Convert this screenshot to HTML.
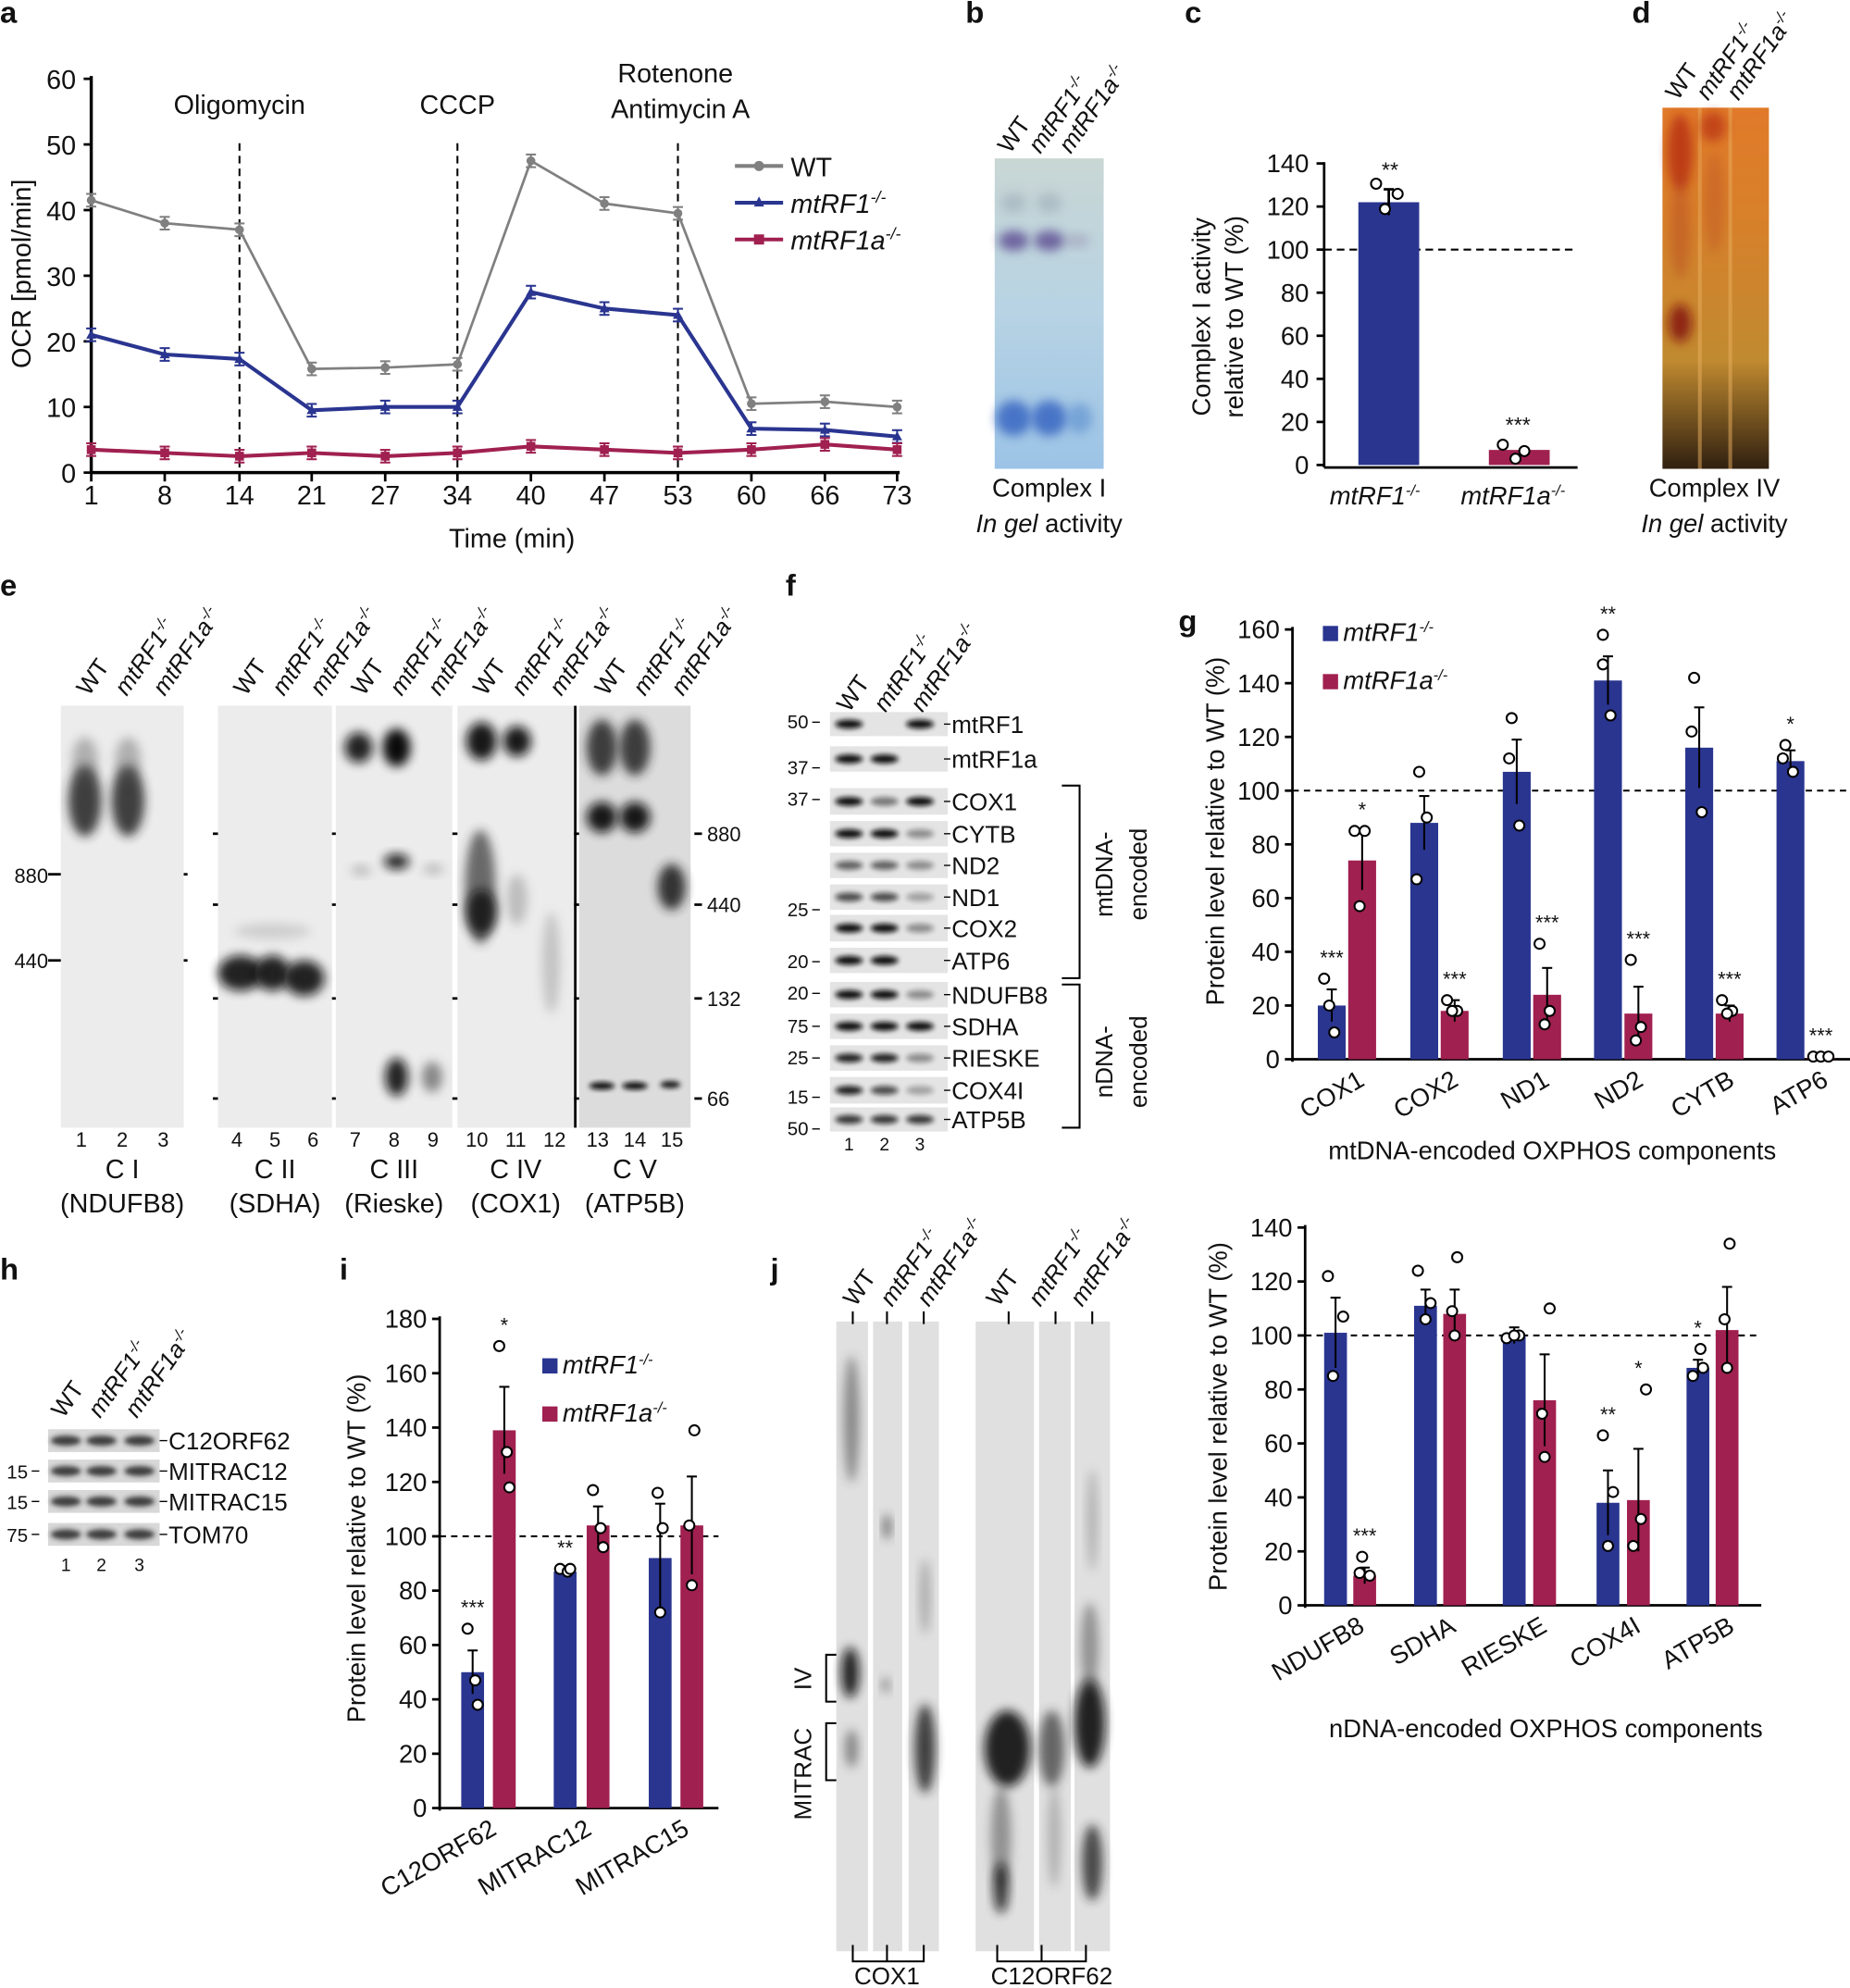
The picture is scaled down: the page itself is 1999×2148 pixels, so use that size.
<!DOCTYPE html>
<html><head><meta charset="utf-8"><style>
html,body{margin:0;padding:0;background:#fff}
svg{display:block}
text{font-family:"Liberation Sans",Arial,sans-serif;fill:#111}
</style></head><body>
<svg id="s" width="1999" height="2148" viewBox="0 0 1460 1569" preserveAspectRatio="none" xmlns="http://www.w3.org/2000/svg">
<defs>
<filter id="bl" x="-50%" y="-50%" width="200%" height="200%"><feGaussianBlur stdDeviation="4"/></filter>
<filter id="bl2" x="-50%" y="-50%" width="200%" height="200%"><feGaussianBlur stdDeviation="2"/></filter>
<linearGradient id="gb" x1="0" y1="0" x2="0" y2="1"><stop offset="0" stop-color="#c9d6d4"/><stop offset="0.5" stop-color="#b7d3e4"/><stop offset="1" stop-color="#9cc3e6"/></linearGradient>
<linearGradient id="gd" x1="0" y1="0" x2="0" y2="1"><stop offset="0" stop-color="#e07a2a"/><stop offset="0.3" stop-color="#d8802a"/><stop offset="0.7" stop-color="#c08a30"/><stop offset="1" stop-color="#302010"/></linearGradient>
</defs>
<g id="g"></g>
</svg>
<script>
var o='';
function T(x,y,t,s,a,e){o+='<text x="'+x+'" y="'+y+'" font-size="'+(s||20)+'"'+(a?' text-anchor="'+a+'"':'')+(e||'')+'>'+t+'</text>';}
function L(x1,y1,x2,y2,c,w,d){o+='<line x1="'+x1+'" y1="'+y1+'" x2="'+x2+'" y2="'+y2+'" stroke="'+(c||'#000')+'" stroke-width="'+(w||2)+'"'+(d?' stroke-dasharray="'+d+'"':'')+'/>';}
function R(x,y,w,h,f,e){o+='<rect x="'+x+'" y="'+y+'" width="'+w+'" height="'+h+'" fill="'+f+'"'+(e||'')+'/>';}
function E(cx,cy,rx,ry,f,op,fl){o+='<ellipse cx="'+cx+'" cy="'+cy+'" rx="'+rx+'" ry="'+ry+'" fill="'+f+'" opacity="'+(op||1)+'" filter="url(#'+(fl||'bl')+')"/>';}
function C(cx,cy,r){o+='<circle cx="'+cx+'" cy="'+cy+'" r="'+(r||4)+'" fill="#fff" stroke="#000" stroke-width="1.5"/>';}
var B='font-weight="bold"';
[['a',0,18],['b',762,18],['c',935,18],['d',1288,18],['e',0,470],['f',620,470],['g',930,498],['h',0,1010],['i',268,1010],['j',608,1010]].forEach(function(p){T(p[1],p[2],p[0],24,'',' '+B);});
// ===== Panel a
var xs=[72,130,189,246,304,361,419,477,535,593,651,708];
var y0=373,k=5.18;
L(72,60,72,373,'#000',2.5);L(72,373,710,373,'#000',2.5);
for(var i=0;i<=6;i++){var y=y0-i*10*k;L(66,y,72,y);T(60,y+8,i*10,21,'end');}
var lab=[1,8,14,21,27,34,40,47,53,60,66,73];
xs.forEach(function(x,i){L(x,373,x,380);T(x,398,lab[i],21,'middle');});
T(404,432,'Time (min)',21,'middle');
o+='<text transform="translate(24,216) rotate(-90)" font-size="21" text-anchor="middle">OCR [pmol/min]</text>';
[189,361,535].forEach(function(x){L(x,113,x,373,'#000',1.5,'6,4');});
T(189,90,'Oligomycin',21,'middle');T(361,90,'CCCP',21,'middle');T(533,65,'Rotenone',21,'middle');T(537,93,'Antimycin A',21,'middle');
var S=[[[41.5,38,37,15.8,16,16.5,47.5,41,39.5,10.5,10.8,10],'#808080',2,'c'],[[21,18,17.3,9.5,10,10,27.5,25,24,6.7,6.5,5.5],'#2a3590',3,'t'],[[3.5,3,2.5,3,2.5,3,4,3.5,3,3.5,4.3,3.5],'#a02050',3,'s']];
S.forEach(function(s){var p=s[0].map(function(v,i){return xs[i]+','+(y0-v*k);}).join(' ');
o+='<polyline points="'+p+'" fill="none" stroke="'+s[1]+'" stroke-width="'+s[2]+'"/>';
s[0].forEach(function(v,i){var x=xs[i],y=y0-v*k;L(x,y-5,x,y+5,s[1],1.5);L(x-4,y-5,x+4,y-5,s[1],1.5);L(x-4,y+5,x+4,y+5,s[1],1.5);
if(s[3]=='c')o+='<circle cx="'+x+'" cy="'+y+'" r="3.5" fill="'+s[1]+'"/>';else if(s[3]=='t')o+='<polygon points="'+(x-4)+','+(y+3)+' '+(x+4)+','+(y+3)+' '+x+','+(y-4)+'" fill="'+s[1]+'"/>';else R(x-3.5,y-3.5,7,7,s[1]);});});
[['WT','#808080',137,'c'],['mtRF1<tspan font-size="13" dy="-8">-/-</tspan>','#2a3590',166,'t'],['mtRF1a<tspan font-size="13" dy="-8">-/-</tspan>','#a02050',195,'s']].forEach(function(l,i){L(580,l[2]-6,618,l[2]-6,l[1],3);
if(l[3]=='c')o+='<circle cx="599" cy="'+(l[2]-6)+'" r="4" fill="'+l[1]+'"/>';else if(l[3]=='t')o+='<polygon points="595,'+(l[2]-3)+' 603,'+(l[2]-3)+' 599,'+(l[2]-11)+'" fill="'+l[1]+'"/>';else R(595,l[2]-10,8,8,l[1]);
T(624,l[2]+2,l[0],21,'',i?' font-style="italic"':'');});
// ===== Panel b
function gl(x,y,ls,sz){ls.forEach(function(t,i){o+='<text transform="translate('+(x+i*(sz||22))+','+y+') rotate(-55)" font-size="19"'+(i?' font-style="italic"':'')+'>'+t+'</text>';});}
var mt1='mtRF1<tspan font-size="12" dy="-7">-/-</tspan>',mt1a='mtRF1a<tspan font-size="12" dy="-7">-/-</tspan>';
gl(797,122,['WT',mt1,mt1a],24);
R(785,125,86,245,'url(#gb)');
E(800,190,12,8,'#5a4a90',0.8);E(828,190,12,8,'#5a4a90',0.8);E(850,190,10,5,'#8a7aa0',0.4);
E(800,330,14,14,'#3060c0',0.8);E(828,330,14,14,'#3060c0',0.8);E(852,330,10,12,'#4a80c8',0.5);
E(800,160,10,8,'#8a9aa8',0.4);E(828,160,10,8,'#8a9aa8',0.4);
T(828,392,'Complex I',20,'middle');T(828,420,'<tspan font-style="italic">In gel</tspan> activity',20,'middle');
// ===== Panel c
var cy0=367,ck=1.7;L(1045,128,1045,369,'#000',2);L(1045,369,1245,369,'#000',2);
for(var v=0;v<=140;v+=20){var y=cy0-v*ck;L(1039,y,1045,y);T(1033,y+7,v,20,'end');}
L(1045,197,1245,197,'#000',1.5,'6,4');
R(1072,cy0-122*ck,48,122*ck,'#2a3590');R(1175,cy0-7*ck,48,7*ck,'#a02050');
L(1096,cy0-128*ck,1096,cy0-116*ck);L(1092,cy0-128*ck,1100,cy0-128*ck);
C(1086,145);C(1103,153);C(1093,165);C(1186,351);C(1203,356);C(1196,362);
T(1097,140,'**',17,'middle');T(1198,341,'***',17,'middle');
T(1085,398,mt1,20,'middle',' font-style="italic"');T(1194,398,mt1a,20,'middle',' font-style="italic"');
o+='<text transform="translate(955,250) rotate(-90)" font-size="20" text-anchor="middle">Complex I activity</text>';
o+='<text transform="translate(981,250) rotate(-90)" font-size="20" text-anchor="middle">relative to WT (%)</text>';
// ===== Panel d
gl(1324,80,['WT',mt1,mt1a],24);
R(1312,85,84,285,'url(#gd)');
R(1340,85,3,285,'#e9b060',' opacity="0.5"');R(1364,85,3,285,'#e9b060',' opacity="0.5"');
E(1326,120,10,30,'#b02010',0.7);E(1352,100,10,12,'#b02010',0.6);E(1326,255,9,15,'#801010',0.8);E(1326,180,8,40,'#b04020',0.4);E(1353,160,8,40,'#b04020',0.3);
T(1353,392,'Complex IV',20,'middle');T(1353,420,'<tspan font-style="italic">In gel</tspan> activity',20,'middle');
// ===== Panel e
var ep=[[48,145,['1','2','3'],'C I','(NDUFB8)'],[172,262,['4','5','6'],'C II','(SDHA)'],[265,357,['7','8','9'],'C III','(Rieske)'],[361,453,['10','11','12'],'C IV','(COX1)'],[457,545,['13','14','15'],'C V','(ATP5B)']];
ep.forEach(function(p,j){R(p[0],557,p[1]-p[0],333,j==4?'#dcdcdc':'#ececec');var w=(p[1]-p[0])/3;
p[2].forEach(function(n,i){T(p[0]+w*(i+0.5),905,n,16,'middle');});
T((p[0]+p[1])/2,930,p[3],21,'middle');T((p[0]+p[1])/2,957,p[4],21,'middle');
gl(p[0]+22,550,['WT',mt1,mt1a],30);});
E(67,632,13,28,'#222',0.85);E(101,632,13,28,'#222',0.85);E(67,600,10,18,'#555',0.4);E(101,600,10,18,'#555',0.4);
E(190,768,18,14,'#111',0.9);E(215,768,14,14,'#111',0.9);E(240,772,16,14,'#111',0.9);E(215,735,30,6,'#888',0.3);
E(283,590,11,12,'#111',0.9);E(313,590,11,15,'#000',0.95);E(285,687,8,4,'#888',0.5);E(313,680,10,6,'#111',0.9);E(342,686,8,4,'#888',0.5);E(313,850,9,15,'#111',0.9);E(341,850,8,12,'#444',0.6);
E(380,585,12,15,'#111',0.95);E(408,585,11,12,'#111',0.95);E(379,700,12,45,'#333',0.7);E(380,720,12,18,'#111',0.8);E(408,710,8,20,'#777',0.4);E(435,760,7,40,'#888',0.4);
R(453,557,2,333,'#000');
E(475,590,12,22,'#222',0.85);E(501,590,12,22,'#222',0.85);E(475,645,12,12,'#111',0.95);E(501,645,12,12,'#111',0.95);E(530,700,11,18,'#222',0.9);
E(475,857,10,3,'#111',1,'bl2');E(501,857,10,3,'#111',1,'bl2');E(529,856,8,3,'#222',1,'bl2');
T(38,697,'880',16,'end');L(38,690,48,690);T(38,764,'440',16,'end');L(38,758,48,758);
[690,758].forEach(function(y){L(145,y,148,y);});
[658,714,788,867].forEach(function(y){L(168,y,172,y);L(262,y,265,y);L(357,y,361,y);L(453,y,457,y);});
[['880',658],['440',714],['132',788],['66',867]].forEach(function(p){L(548,p[1],554,p[1]);T(558,p[1]+6,p[0],16);});
// ===== Panel f
gl(670,563,['WT',mt1,mt1a],29);
var fr=[[562,581,'mtRF1',[1,0,1],'50',570],[589,609,'mtRF1a',[1,1,0],'37',606],[622,643,'COX1',[1,.5,1],'37',631],[648,668,'CYTB',[1,1,.4],null],[673,693,'ND2',[.6,.6,.4],null],[698,718,'ND1',[.7,.7,.3],'25',718],[722,743,'COX2',[1,1,.4],null],[748,768,'ATP6',[1,1,0],'20',759],[775,795,'NDUFB8',[1,1,.4],'20',784],[800,820,'SDHA',[1,1,1],'75',810],[825,845,'RIESKE',[.9,.9,.4],'25',835],[850,871,'COX4I',[.9,.7,.3],'15',866],[874,893,'ATP5B',[.8,.8,.8],'50',891]];
fr.forEach(function(r){R(655,r[0],93,r[1]-r[0],'#e4e4e4');var cy=(r[0]+r[1])/2;
r[3].forEach(function(a,i){if(a>0)E(670+i*28,cy,11,3.5,'#111',a,'bl2');});
T(751,cy+7,r[2],19);L(745,cy,750,cy,'#000',1);
if(r[4]){T(638,r[5]+5,r[4],15,'end');L(641,r[5],647,r[5],'#000',1);}});
T(670,908,'1',14,'middle');T(698,908,'2',14,'middle');T(726,908,'3',14,'middle');
o+='<polyline points="838,620 852,620 852,772 838,772" fill="none" stroke="#000" stroke-width="1.5"/>';
o+='<polyline points="838,777 852,777 852,890 838,890" fill="none" stroke="#000" stroke-width="1.5"/>';
o+='<text transform="translate(878,690) rotate(-90)" font-size="19" text-anchor="middle">mtDNA-</text><text transform="translate(905,690) rotate(-90)" font-size="19" text-anchor="middle">encoded</text>';
o+='<text transform="translate(878,838) rotate(-90)" font-size="19" text-anchor="middle">nDNA-</text><text transform="translate(905,838) rotate(-90)" font-size="19" text-anchor="middle">encoded</text>';
// ===== bar chart helper
function bars(ax,y0,k,max,step,x1,groups,leg,labs,xlab,lx,ly){
L(ax,y0-max*k-2,ax,y0+2,'#000',2);L(ax,y0,x1,y0,'#000',2);
for(var v=0;v<=max;v+=step){var y=y0-v*k;L(ax-6,y,ax,y);T(ax-10,y+7,v,20,'end');}
L(ax,y0-100*k,x1,y0-100*k,'#000',1.5,'5,4');
groups.forEach(function(g){g.forEach(function(b){var c=b[1]?'#a02050':'#2a3590';R(b[0],y0-b[2]*k,b[3]||18,b[2]*k,c);
var cx=b[0]+(b[3]||18)/2;L(cx,y0-(b[2]+b[4])*k,cx,y0-(b[2]-b[4])*k,'#000',1.5);L(cx-4,y0-(b[2]+b[4])*k,cx+4,y0-(b[2]+b[4])*k,'#000',1.5);
var top=y0-(b[2]+b[4])*k;
(b[5]||[]).forEach(function(d){C(cx+d[0],y0-d[1]*k);top=Math.min(top,y0-d[1]*k-5);});
if(b[6])T(cx,top-6,b[6],16,'middle');});});
labs.forEach(function(l){o+='<text transform="translate('+l[0]+','+(y0+20)+') rotate(-30)" font-size="20" text-anchor="end">'+l[1]+'</text>';});
if(xlab)T(xlab[0],xlab[1],xlab[2],20,'middle');
o+='<text transform="translate('+lx+','+ly+') rotate(-90)" font-size="20" text-anchor="middle">Protein level relative to WT (%)</text>';
if(leg){R(leg[0],leg[1],12,12,'#2a3590');T(leg[0]+16,leg[1]+12,mt1,20,'',' font-style="italic"');R(leg[0],leg[1]+38,12,12,'#a02050');T(leg[0]+16,leg[1]+50,mt1a,20,'',' font-style="italic"');}}
// ===== Panel g
var gx=[1040,1113,1186,1258,1330,1402];
var gb=[[20,6,[[-6,30],[2,10],[-2,20]],'***'],[88,10,[[-4,107],[-6,67],[2,90]],''],[107,12,[[-4,127],[-6,112],[2,87]],''],[141,9,[[-4,158],[-4,147],[2,128]],'**'],[116,15,[[-4,142],[-6,122],[2,92]],''],[111,4,[[-4,117],[-6,112],[2,107]],'*']];
var gr=[[74,11,[[-6,85],[2,85],[-2,57]],'*'],[18,4,[[-6,22],[2,18],[-2,18]],'***'],[24,10,[[-6,43],[2,18],[-2,13]],'***'],[17,10,[[-6,37],[2,12],[-2,7]],'***'],[17,3,[[-6,22],[2,18],[-2,17]],'***'],[0.5,0,[[-6,1],[0,1],[6,1]],'***']];
var G=[];gx.forEach(function(x,i){G.push([[x,0,gb[i][0],22,gb[i][1],gb[i][2],gb[i][3]],[x+24,1,gr[i][0],22,gr[i][1],gr[i][2],gr[i][3]]]);});
bars(1020,836,2.12,160,20,1460,G,[1044,494],[[1078,'COX1'],[1152,'COX2'],[1224,'ND1'],[1298,'ND2'],[1370,'CYTB'],[1444,'ATP6']],[1225,915,'mtDNA-encoded OXPHOS components'],966,656);
// ===== Panel h
gl(50,1120,['WT',mt1,mt1a],29);
[[1128,1146,'C12ORF62',null],[1152,1170,'MITRAC12','15'],[1176,1194,'MITRAC15','15'],[1202,1220,'TOM70','75']].forEach(function(r){R(38,r[0],88,r[1]-r[0],'#d8d8d8');var cy=(r[0]+r[1])/2;
[52,80,110].forEach(function(x){E(x,cy,12,4,'#222',0.85,'bl2');});T(133,cy+7,r[2],19);L(126,cy,132,cy,'#000',1);
if(r[3]){T(22,cy+6,r[3],15,'end');L(25,cy,31,cy,'#000',1);}});
T(52,1240,'1',14,'middle');T(80,1240,'2',14,'middle');T(110,1240,'3',14,'middle');
// ===== Panel i
bars(347,1427,2.145,180,20,567,[[[364,0,50,18,8,[[-4,66],[2,47],[4,38]],'***'],[389,1,139,18,16,[[-4,170],[2,131],[4,118]],'*']],[[437,0,87,18,2,[[-4,88],[2,87],[4,88]],'**'],[463,1,104,18,7,[[-4,117],[2,103],[4,96]],'']],[[512,0,92,18,20,[[-2,116],[2,103],[0,72]],''],[537,1,104,18,18,[[2,139],[-2,104],[0,82]],'']]],[428,1072],[[393,'C12ORF62'],[468,'MITRAC12'],[545,'MITRAC15']],null,288,1222);
// ===== Panel j
gl(675,1032,['WT',mt1,mt1a],29);gl(788,1032,['WT',mt1,mt1a],33);
[[660,685],[689,712],[717,741],[770,816],[820,845],[848,876]].forEach(function(p){R(p[0],1043,p[1]-p[0],497,'#e0e0e0');});
[673,700,729,796,833,862].forEach(function(x){L(x,1035,x,1045,'#000',1.5);});
E(672,1120,6,50,'#333',0.5);E(671,1320,7,20,'#111',0.9);E(672,1380,5,15,'#444',0.6);E(700,1205,3,10,'#333',0.7);E(699,1330,3,6,'#444',0.6);E(730,1380,8,35,'#222',0.85);E(730,1260,4,30,'#555',0.4);
E(795,1380,18,30,'#111',0.9);E(790,1450,8,40,'#444',0.5);E(790,1490,6,20,'#111',0.8);E(830,1380,10,30,'#333',0.7);E(832,1450,5,40,'#666',0.4);E(860,1360,12,35,'#111',0.9);E(860,1300,7,35,'#444',0.5);E(862,1470,8,30,'#222',0.8);E(862,1200,4,40,'#666',0.4);
o+='<polyline points="660,1306 652,1306 652,1343 660,1343" fill="none" stroke="#000" stroke-width="1.5"/><polyline points="660,1360 652,1360 652,1405 660,1405" fill="none" stroke="#000" stroke-width="1.5"/>';
o+='<text transform="translate(640,1325) rotate(-90)" font-size="19" text-anchor="middle">IV</text><text transform="translate(640,1400) rotate(-90)" font-size="19" text-anchor="middle">MITRAC</text>';
o+='<polyline points="673,1535 673,1548 729,1548 729,1535" fill="none" stroke="#000" stroke-width="1.5"/><line x1="700" y1="1535" x2="700" y2="1548" stroke="#000" stroke-width="1.5"/>';
o+='<polyline points="787,1535 787,1548 857,1548 857,1535" fill="none" stroke="#000" stroke-width="1.5"/><line x1="822" y1="1535" x2="822" y2="1548" stroke="#000" stroke-width="1.5"/>';
T(700,1566,'COX1',19,'middle');T(830,1566,'C12ORF62',19,'middle');
// ===== bottom right
bars(1030,1267,2.13,140,20,1390,[[[1045,0,101,18,13,[[-6,122],[6,107],[-2,85]],''],[1068,1,11,18,3,[[-2,18],[4,11],[-4,12]],'***']],[[1116,0,111,18,6,[[-6,124],[4,112],[0,106]],''],[1139,1,108,18,9,[[2,129],[-2,109],[0,100]],'']],[[1186,0,100,18,3,[[-6,99],[4,100],[0,100]],''],[1210,1,76,18,17,[[4,110],[-2,71],[0,55]],'']],[[1260,0,38,18,12,[[-4,63],[4,42],[0,22]],'**'],[1284,1,39,18,19,[[6,80],[-4,22],[2,32]],'*']],[[1331,0,88,18,3,[[2,95],[-4,85],[4,88]],'*'],[1354,1,102,18,16,[[2,134],[-2,106],[0,88]],'']]],null,[[1078,'NDUFB8'],[1150,'SDHA'],[1222,'RIESKE'],[1296,'COX4I'],[1370,'ATP5B']],[1220,1371,'nDNA-encoded OXPHOS components'],968,1118);
document.getElementById('g').innerHTML=o;
</script>
</body></html>
